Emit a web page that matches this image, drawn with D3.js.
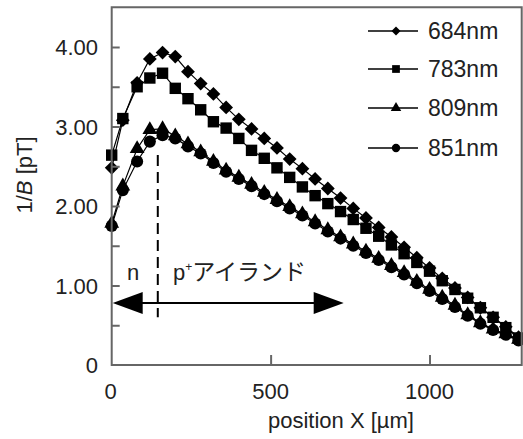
<!DOCTYPE html>
<html><head><meta charset="utf-8">
<script src="https://cdn.jsdelivr.net/npm/d3@7"></script>
<style>body{margin:0;background:#fff}svg{display:block}</style>
</head><body>
<svg id="c" width="523" height="439"></svg>
<script>
const positions = [0,35,80,120,160,200,240,280,320,360,400,440,480,520,560,600,640,680,720,760,800,840,880,920,960,1000,1040,1080,1120,1160,1200,1240,1280];
const s684 = [2.48,3.08,3.55,3.85,3.93,3.88,3.69,3.54,3.41,3.24,3.09,2.97,2.85,2.73,2.59,2.47,2.34,2.22,2.10,1.97,1.85,1.73,1.61,1.48,1.35,1.22,1.09,0.97,0.85,0.72,0.60,0.48,0.35];
const s783 = [2.64,3.10,3.50,3.61,3.67,3.48,3.35,3.21,3.06,2.98,2.85,2.70,2.60,2.48,2.36,2.24,2.13,2.03,1.93,1.83,1.72,1.62,1.51,1.40,1.29,1.18,1.06,0.95,0.84,0.72,0.60,0.47,0.34];
const s809 = [1.78,2.25,2.72,2.96,2.97,2.88,2.78,2.68,2.56,2.45,2.36,2.27,2.17,2.08,1.99,1.90,1.80,1.70,1.61,1.52,1.43,1.34,1.25,1.16,1.05,0.95,0.85,0.75,0.63,0.53,0.45,0.39,0.32];
const s851 = [1.75,2.20,2.56,2.81,2.89,2.85,2.75,2.66,2.54,2.43,2.34,2.25,2.15,2.06,1.97,1.88,1.78,1.68,1.59,1.50,1.41,1.32,1.23,1.14,1.03,0.93,0.83,0.73,0.62,0.52,0.44,0.38,0.31];
const seriesNames = ["684nm","783nm","809nm","851nm"];
const xTicks = [0,500,1000];
const yTicks = [0,1,2,3,4];
const yMinorTicks = [0.5,1,1.5,2,2.5,3,3.5,4];
const yTickLabels = ["0","1.00","2.00","3.00","4.00"];
const dividerX = 145;
const arrowY = 0.78;
const arrowEnd = 730;

const svg = d3.select("#c");
const x = d3.scaleLinear().domain([0,1290]).range([111.7,521.7]);
const y = d3.scaleLinear().domain([0,4.5]).range([365,7.25]);
const latin = "Liberation Sans, Arial, sans-serif";
const txt = "#222";

const shapes = [
  {type:d3.symbolSquare, size:95, rot:45},
  {type:d3.symbolSquare, size:130, rot:0},
  {type:d3.symbolTriangle, size:95, rot:0},
  {type:d3.symbolCircle, size:115, rot:0}
];
const legShapes = [
  {type:d3.symbolSquare, size:40, rot:45},
  {type:d3.symbolSquare, size:60, rot:0},
  {type:d3.symbolTriangle, size:48, rot:0},
  {type:d3.symbolCircle, size:55, rot:0}
];
const data = [s684,s783,s809,s851];

const plot = svg.append("g");
const line = d3.line().x((d,i)=>x(positions[i])).y(d=>y(d));
[3,2,1,0].forEach(k=>{
  plot.append("path").attr("d",line(data[k])).attr("fill","none").attr("stroke","#000").attr("stroke-width",1.2);
});
[3,2,1,0].forEach(k=>{
  const sh = shapes[k];
  plot.selectAll(null).data(data[k]).enter().append("path")
    .attr("d",d3.symbol().type(sh.type).size(sh.size))
    .attr("transform",(d,i)=>`translate(${x(positions[i])},${y(d)}) rotate(${sh.rot})`)
    .attr("fill","#000");
});

svg.append("rect").attr("x",x(0)).attr("y",y(4.5)).attr("width",x(1290)-x(0)).attr("height",y(0)-y(4.5))
  .attr("fill","none").attr("stroke","#666").attr("stroke-width",2);

const yAxis = d3.axisRight(y).tickValues(yMinorTicks).tickSize(8).tickFormat("");
const gy = svg.append("g").attr("transform",`translate(${x(0)},0)`).call(yAxis);
gy.select(".domain").remove();
gy.selectAll("line").attr("stroke","#666").attr("stroke-width",2);
svg.selectAll(null).data(yTicks).enter().append("text")
  .attr("x",98).attr("y",d=>y(d)+8).attr("text-anchor","end")
  .attr("font-family",latin).attr("font-size",22).attr("fill",txt)
  .text((d,i)=>yTickLabels[i]);

const xAxis = d3.axisTop(x).tickValues(xTicks.filter(v=>v>0)).tickSize(10).tickFormat("");
const gx = svg.append("g").attr("transform",`translate(0,${y(0)})`).call(xAxis);
gx.select(".domain").remove();
gx.selectAll("line").attr("stroke","#666").attr("stroke-width",2);
svg.selectAll(null).data(xTicks).enter().append("text")
  .attr("x",d=>x(d)+(d===0?-1:0)).attr("y",399).attr("text-anchor","middle")
  .attr("font-family",latin).attr("font-size",22).attr("fill",txt)
  .text(d=>d);

svg.append("text").attr("x",341).attr("y",428).attr("text-anchor","middle")
  .attr("font-family",latin).attr("font-size",22).attr("fill",txt).text("position X [µm]");
const yt = svg.append("text").attr("transform","translate(32,175) rotate(-90)").attr("text-anchor","middle")
  .attr("font-family",latin).attr("font-size",22).attr("fill",txt);
yt.append("tspan").text("1/");
yt.append("tspan").attr("font-style","italic").text("B");
yt.append("tspan").text(" [pT]");

svg.append("line").attr("x1",x(dividerX)).attr("x2",x(dividerX)).attr("y1",y(2.64)).attr("y2",y(0.6))
  .attr("stroke","#000").attr("stroke-width",2).attr("stroke-dasharray","11,6");

const ay = y(arrowY);
const x0 = x(0)+1, x1 = x(arrowEnd);
svg.append("line").attr("x1",x0+25).attr("x2",x1-25).attr("y1",ay).attr("y2",ay).attr("stroke","#000").attr("stroke-width",2);
svg.append("path").attr("d",`M${x0},${ay} L${x0+30},${ay-11} L${x0+30},${ay+11} Z`).attr("fill","#000");
svg.append("path").attr("d",`M${x1},${ay} L${x1-30},${ay-11} L${x1-30},${ay+11} Z`).attr("fill","#000");

svg.append("text").attr("x",133).attr("y",280).attr("text-anchor","middle")
  .attr("font-family",latin).attr("font-size",22).attr("fill",txt).text("n");
const pt = svg.append("text").attr("x",173).attr("y",280)
  .attr("font-family","Noto Sans CJK JP, sans-serif").attr("font-size",23).attr("fill",txt);
pt.append("tspan").attr("font-family",latin).attr("font-size",22).text("p");
pt.append("tspan").attr("font-family",latin).attr("font-size",12).attr("dy",-9).text("+");
pt.append("tspan").attr("dy",9).text("アイランド");

const legY = [31,69,108,148];
seriesNames.forEach((n,k)=>{
  const g = svg.append("g").attr("transform",`translate(0,${legY[k]})`);
  g.append("line").attr("x1",368).attr("x2",418).attr("y1",0).attr("y2",0).attr("stroke","#000").attr("stroke-width",1.5);
  const sh = legShapes[k];
  g.append("path").attr("d",d3.symbol().type(sh.type).size(sh.size)).attr("transform",`translate(396,0) rotate(${sh.rot})`).attr("fill","#000");
  g.append("text").attr("x",428).attr("y",8).attr("font-family",latin).attr("font-size",23).attr("fill",txt).text(n);
});
</script>
</body></html>
